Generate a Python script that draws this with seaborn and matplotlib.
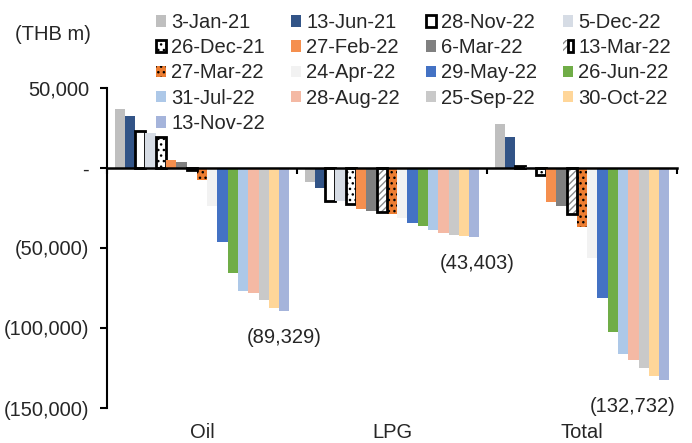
import matplotlib
matplotlib.use("Agg")
import matplotlib.pyplot as plt
from matplotlib.patches import Rectangle
from matplotlib.ticker import FuncFormatter
from matplotlib.legend_handler import HandlerTuple
import pandas as pd
import seaborn as sns

# data (THB m)
categories = ["Oil", "LPG", "Total"]
dates = ["3-Jan-21", "13-Jun-21", "28-Nov-22", "5-Dec-22", "26-Dec-21", "27-Feb-22",
         "6-Mar-22", "13-Mar-22", "27-Mar-22", "24-Apr-22", "29-May-22", "26-Jun-22",
         "31-Jul-22", "28-Aug-22", "25-Sep-22", "30-Oct-22", "13-Nov-22"]
oil = [36900, 32800, 23000, 22000, 19200, 5300, 4000, -1500, -7800, -24000,
       -46000, -65500, -76800, -78400, -82800, -87200, -89329]
lpg = [-8700, -12800, -20600, -20800, -22400, -25800, -26800, -27800, -29000, -31300,
       -34500, -36400, -38900, -40800, -42000, -42600, -43403]
total = [27600, 19100, 1500, 500, -4100, -21500, -23600, -29000, -37100, -56000,
         -81300, -102700, -116200, -119700, -125300, -129700, -132732]

colors = ["#BFBFBF", "#325487", "#FFFFFF", "#D6DCE5", "#FFFFFF", "#F58F4E",
          "#808080", "#FFFFFF", "#ED7D31", "#F2F2F2", "#4472C4", "#70AD47",
          "#ADC8E8", "#F4B9A4", "#C9C9C9", "#FFD699", "#A5B4DB"]

rows = []
for i, d in enumerate(dates):
    for cat, vals in zip(categories, [oil, lpg, total]):
        rows.append({"cat": cat, "date": d, "val": vals[i]})
df = pd.DataFrame(rows)

sns.set_style("white")
plt.rcParams["font.family"] = ["Liberation Sans", "DejaVu Sans"]
plt.rcParams["font.size"] = 14.5
plt.rcParams["hatch.linewidth"] = 1.0

fig = plt.figure(figsize=(6.92, 4.43), dpi=100)
ax = fig.add_axes([107 / 692, 1 - 408 / 443, 570 / 692, 320 / 443])

sns.barplot(data=df, x="cat", y="val", hue="date", order=categories, hue_order=dates,
            palette=colors, saturation=1, width=0.92, linewidth=0, legend=False, ax=ax)

# special bar styles (outlined / dotted / hatched series)
handles = list(ax.containers)
for i, cont in enumerate(ax.containers):
    d = dates[i]
    for p in cont.patches:
        if d == "28-Nov-22":
            p.set_edgecolor("black"); p.set_linewidth(2)
        elif d == "26-Dec-21":
            p.set_edgecolor("black"); p.set_linewidth(2); p.set_hatch("...")
        elif d == "27-Mar-22":
            p.set_edgecolor("black"); p.set_linewidth(0); p.set_hatch("...")
        elif d == "13-Mar-22":
            p.set_edgecolor("#8C8C8C"); p.set_linewidth(0); p.set_hatch("/////")
    if d == "13-Mar-22":
        for p in cont.patches:
            ax.add_patch(Rectangle(p.get_xy(), p.get_width(), p.get_height(), fill=False,
                                   edgecolor="black", linewidth=2))
        handles[i] = (cont, Rectangle((0, 0), 1, 1, fill=False, edgecolor="black", linewidth=2))

ax.set_xlim(-0.5, 2.5)
ax.set_ylim(-150000, 50000)
ax.set_yticks([50000, 0, -50000, -100000, -150000])


def fmt(v, pos):
    if v == 0:
        return "-"
    if v < 0:
        return f"({abs(v):,.0f})"
    return f"{v:,.0f}"


ax.yaxis.set_major_formatter(FuncFormatter(fmt))
ax.set_xticks([-0.5, 0.5, 1.5, 2.5])
ax.set_xticklabels([])
ax.tick_params(axis="x", direction="out", length=4, width=1.5, color="black", bottom=True)
ax.tick_params(axis="y", direction="out", length=5, width=1.5, color="black", left=True, pad=8)
ax.set_xlabel("")
ax.set_ylabel("")

for s in ["top", "right"]:
    ax.spines[s].set_visible(False)
ax.spines["left"].set_color("black")
ax.spines["left"].set_linewidth(1.5)
ax.spines["bottom"].set_position(("data", 0))
ax.spines["bottom"].set_color("black")
ax.spines["bottom"].set_linewidth(1.8)
ax.spines["bottom"].set_zorder(5)

# category labels at the bottom
for k, c in enumerate(categories):
    ax.text(k, -0.075, c, transform=ax.get_xaxis_transform(), ha="center", va="center")

# data labels under the last series
last = ax.containers[-1]
shifts = [0, 2, -23]
for p, s in zip(last.patches, shifts):
    v = p.get_height()
    ax.annotate(f"({abs(v):,.0f})", xy=(p.get_x() + p.get_width() / 2, v),
                xytext=(s, -19), textcoords="offset points", ha="center", va="center")

fig.text(15 / 692, 1 - 34 / 443, "(THB m)", ha="left", va="center")

order = [0, 4, 8, 12, 16, 1, 5, 9, 13, 2, 6, 10, 14, 3, 7, 11, 15]
leg = fig.legend([handles[i] for i in order], [dates[i] for i in order],
                 ncol=4, loc="upper left", bbox_to_anchor=(156 / 692, 1 - 13 / 443),
                 frameon=False, borderpad=0, borderaxespad=0, handlelength=0.5,
                 handleheight=0.5, handletextpad=0.25, columnspacing=1.3,
                 labelspacing=0.31, handler_map={tuple: HandlerTuple(ndivide=None, pad=0)})

fig.savefig("out.png", dpi=100)
